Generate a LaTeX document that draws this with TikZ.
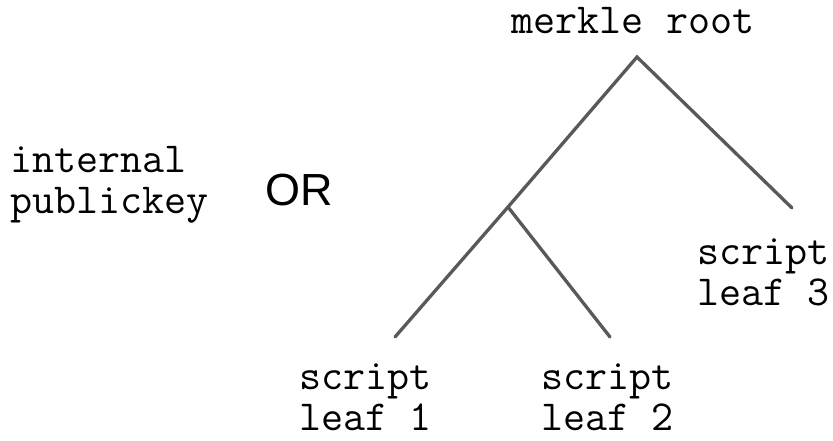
\documentclass[tikz,border=0pt]{standalone}
\usepackage{fontspec}
\setmainfont{Liberation Sans}
\definecolor{branchgray}{HTML}{595959}
\begin{document}
\begin{tikzpicture}[x=1pt,y=-1pt,
    lbl/.style={font=\ttfamily\fontsize{42.8}{41}\selectfont, align=left, inner sep=0pt},
    branch/.style={draw=branchgray, line width=3.3pt, line cap=round}]
    \useasboundingbox (0,0) rectangle (833,440);
    % labels (base = last line)
    \node [lbl, anchor=base] (root) at (633,33) {merkle root};
    \node [lbl, anchor=base west] (key) at (10,213) {internal\\publickey};
    \node [font=\fontsize{45}{45}\selectfont, inner sep=0pt, anchor=base west] (or) at (265,205) {OR};
    \node [lbl, anchor=base west] (leafc) at (697,305) {script\\leaf 3};
    \node [lbl, anchor=base west] (leafa) at (299,430) {script\\leaf 1};
    \node [lbl, anchor=base west] (leafb) at (541,430) {script\\leaf 2};
    % tree
    \coordinate (top) at (637,57);
    \coordinate (mid) at (508,207);
    \coordinate (endc) at (792,208);
    \coordinate (enda) at (395,337);
    \coordinate (endb) at (610,337);
    \draw [branch] (endc) -- (top) -- (mid) -- (enda);
    \draw [branch] (mid) -- (endb);
\end{tikzpicture}
\end{document}
